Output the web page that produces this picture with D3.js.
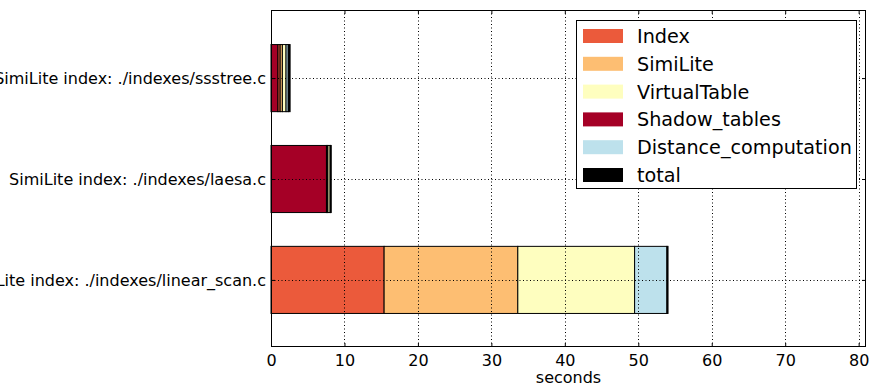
<!DOCTYPE html>
<html>
<head>
<meta charset="utf-8">
<script src="https://cdn.jsdelivr.net/npm/d3@7"></script>
<style>
  html, body { margin: 0; padding: 0; background: #fff; }
  svg { display: block; font-family: "DejaVu Sans", sans-serif; }
</style>
</head>
<body>
<svg id="chart" width="871" height="387"></svg>
<script>
// Benchmarked index implementations, bottom to top
const categories = [
  "SimiLite index: ./indexes/linear_scan.c",
  "SimiLite index: ./indexes/laesa.c",
  "SimiLite index: ./indexes/ssstree.c"
];

// Time spent per component, in seconds
const shadowTables        = [0.0, 7.55, 0.95];
const indexTime           = [15.4, 0.1, 0.3];
const simiLiteTime        = [18.2, 0.1, 0.3];
const virtualTable        = [15.9, 0.3, 0.5];
const distanceComputation = [4.4, 0.05, 0.3];
const totalOverhead       = [0.15, 0.1, 0.25];

const xTicks = [0, 10, 20, 30, 40, 50, 60, 70, 80];
const xMax = 81;
const axisLabel = "seconds";

// Series in legend order
const series = [
  { name: "Index",                values: indexTime,           color: "#eb5a3b" },
  { name: "SimiLite",             values: simiLiteTime,        color: "#fdbe72" },
  { name: "VirtualTable",         values: virtualTable,        color: "#fefebf" },
  { name: "Shadow_tables",        values: shadowTables,        color: "#a50026" },
  { name: "Distance_computation", values: distanceComputation, color: "#bde1ec" },
  { name: "total",                values: totalOverhead,       color: "#000000" }
];
// Stacking order along each bar
const stackOrder = ["Shadow_tables", "Index", "SimiLite", "VirtualTable", "Distance_computation", "total"];

const svg = d3.select("#chart");
const plot = { left: 271, right: 866, top: 10, bottom: 347 };
const barHeight = 0.665;

const x = d3.scaleLinear().domain([0, xMax]).range([plot.left, plot.right]);
const y = d3.scaleLinear().domain([-0.665, 2.675]).range([plot.bottom, plot.top]);

// Stacked bars
const bars = svg.append("g");
categories.forEach((cat, i) => {
  let acc = 0;
  stackOrder.forEach(name => {
    const s = series.find(d => d.name === name);
    const v = s.values[i];
    if (v > 0) {
      bars.append("rect")
        .attr("x", x(acc))
        .attr("y", y(i + barHeight / 2))
        .attr("width", x(acc + v) - x(acc))
        .attr("height", y(i - barHeight / 2) - y(i + barHeight / 2))
        .attr("fill", s.color)
        .attr("stroke", "#000")
        .attr("stroke-width", 1);
    }
    acc += v;
  });
});

// Dotted grid drawn above the bars
const grid = svg.append("g")
  .attr("stroke", "#000")
  .attr("stroke-width", 1)
  .attr("stroke-dasharray", "1,2.5");
xTicks.forEach(t => {
  grid.append("line")
    .attr("x1", Math.round(x(t)) + 0.5).attr("x2", Math.round(x(t)) + 0.5)
    .attr("y1", plot.top).attr("y2", plot.bottom);
});
categories.forEach((c, i) => {
  grid.append("line")
    .attr("x1", plot.left).attr("x2", plot.right)
    .attr("y1", Math.round(y(i)) + 0.5).attr("y2", Math.round(y(i)) + 0.5);
});

// Axes with inward ticks on all four sides
const tickLen = 4;
const xBottom = d3.axisBottom(x).tickValues(xTicks).tickSize(-tickLen).tickPadding(tickLen + 4);
const xTop = d3.axisTop(x).tickValues(xTicks).tickSize(-tickLen).tickFormat("");
const yLeft = d3.axisLeft(y).tickValues(d3.range(categories.length)).tickSize(-tickLen)
  .tickPadding(tickLen + 1).tickFormat(i => categories[i]);
const yRight = d3.axisRight(y).tickValues(d3.range(categories.length)).tickSize(-tickLen).tickFormat("");

function styleAxis(g) {
  g.select(".domain").remove();
  g.selectAll("line").attr("stroke", "#000");
  g.selectAll("text").attr("fill", "#000").attr("font-size", 16)
    .attr("font-family", "DejaVu Sans, sans-serif");
}
svg.append("g").attr("transform", `translate(0,${plot.bottom})`).call(xBottom).call(styleAxis);
svg.append("g").attr("transform", `translate(0,${plot.top})`).call(xTop).call(styleAxis);
svg.append("g").attr("transform", `translate(${plot.left},0)`).call(yLeft).call(styleAxis);
svg.append("g").attr("transform", `translate(${plot.right},0)`).call(yRight).call(styleAxis);

// Frame
svg.append("rect")
  .attr("x", plot.left + 0.5).attr("y", plot.top + 0.5)
  .attr("width", plot.right - plot.left - 1).attr("height", plot.bottom - plot.top - 1)
  .attr("fill", "none").attr("stroke", "#000").attr("stroke-width", 1);

// Axis title
svg.append("text")
  .attr("x", (plot.left + plot.right) / 2)
  .attr("y", 383)
  .attr("text-anchor", "middle")
  .attr("font-size", 16)
  .text(axisLabel);

// Legend
const legend = svg.append("g");
legend.append("rect")
  .attr("x", 576.5).attr("y", 20.5).attr("width", 280).attr("height", 168)
  .attr("fill", "#fff").attr("stroke", "#000").attr("stroke-width", 1);
series.forEach((s, i) => {
  const cy = 36 + i * 27.8;
  legend.append("rect")
    .attr("x", 583).attr("y", cy - 7).attr("width", 40).attr("height", 14)
    .attr("fill", s.color);
  legend.append("text")
    .attr("x", 637).attr("y", cy + 7)
    .attr("font-size", 19.2)
    .text(s.name);
});
</script>
</body>
</html>
